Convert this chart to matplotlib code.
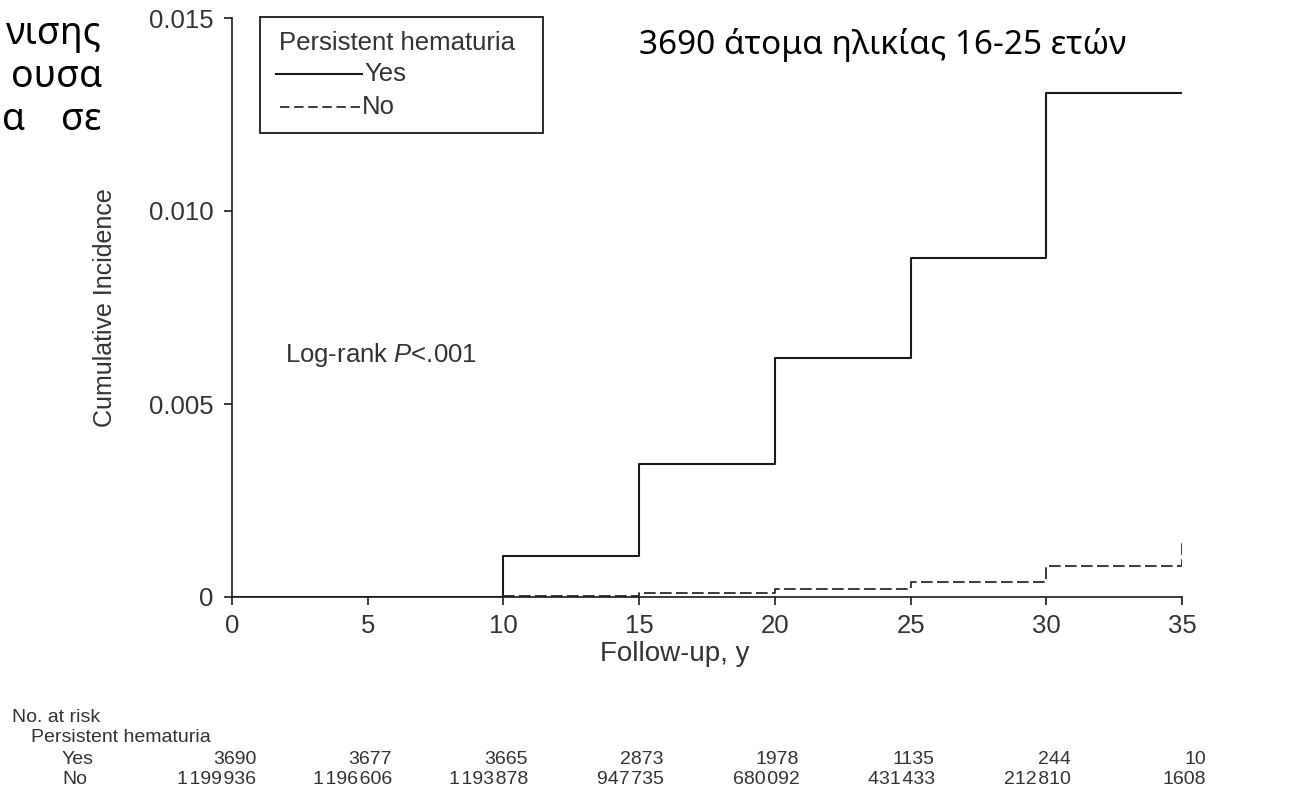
import matplotlib
matplotlib.use('Agg')
from matplotlib import pyplot as plt
from matplotlib.lines import Line2D
from matplotlib.patches import Rectangle
from matplotlib import transforms

# fonts: Helvetica-like for the chart, latin fallback list
plt.rcParams['font.family'] = ['Liberation Sans', 'DejaVu Sans']
plt.rcParams['mathtext.fontset'] = 'custom'
plt.rcParams['mathtext.it'] = 'Liberation Sans:italic'
plt.rcParams['mathtext.rm'] = 'Liberation Sans'

# cumulative incidence (step curves)
follow_up = [0, 10, 15, 20, 25, 30, 35]
inc_yes = [0, 0.00106, 0.00344, 0.0062, 0.00879, 0.01306, 0.01306]
inc_no = [0, 0.00003, 0.0001, 0.0002, 0.0004, 0.0008, 0.0015]

# number at risk table
risk_times = [0, 5, 10, 15, 20, 25, 30, 35]
risk_yes = [3690, 3677, 3665, 2873, 1978, 1135, 244, 10]
risk_no = [1199936, 1196606, 1193878, 947735, 680092, 431433, 212810, 1608]

x_ticks = [0, 5, 10, 15, 20, 25, 30, 35]
y_ticks = [0, 0.005, 0.010, 0.015]
y_tick_labels = ['0', '0.005', '0.010', '0.015']

W, H = 1293, 794
line_col = '#1a1a1a'
text_col = '#333333'


def fx(px):
    return px / W


def fy(py):
    return 1 - py / H


def fmt(n):
    # small space between thousands groups, only for big numbers
    if n < 10000:
        return str(n)
    return '{:,}'.format(n).replace(',', '\u200a')


fig = plt.figure(figsize=(W / 100, H / 100), dpi=100)
ax = fig.add_axes([fx(232), fy(597), (1182 - 232) / W, (597 - 18) / H])

ax.step(follow_up, inc_yes, where='post', color=line_col, lw=1.5)
ax.step(follow_up, inc_no, where='post', color=line_col, lw=1.2, dashes=(7, 2.6))

ax.set_xlim(0, 35)
ax.set_ylim(0, 0.015)
ax.set_xticks(x_ticks)
ax.set_yticks(y_ticks)
ax.set_yticklabels(y_tick_labels)
for s in ['top', 'right']:
    ax.spines[s].set_visible(False)
for s in ['left', 'bottom']:
    ax.spines[s].set_linewidth(1.2)
    ax.spines[s].set_color(line_col)
ax.tick_params(axis='both', direction='out', length=6, width=1.2, color=line_col,
               labelsize=18.5, labelcolor=text_col, pad=6)
ax.tick_params(axis='y', pad=7.5)

ax.set_xlabel('Follow-up, y', fontsize=20, color=text_col)
ax.xaxis.set_label_coords((675 - 232) / 950, (597 - 641) / 579)
ax.set_ylabel('Cumulative Incidence', fontsize=18, color=text_col, va='center')
ax.yaxis.set_label_coords((105 - 232) / 950, 0.5)

ax.text(1.95, 0.00627, 'Log-rank $P$<.001', fontsize=18.5, color=text_col, va='center')

# legend box drawn by hand, to keep its wide and flat shape
fig.add_artist(Rectangle((fx(260), fy(133)), (543 - 260) / W, (133 - 16.7) / H,
                         transform=fig.transFigure, fill=False,
                         edgecolor=line_col, lw=1.3))
fig.text(fx(279), fy(43), 'Persistent hematuria', fontsize=18.5, color=text_col, va='center')
fig.add_artist(Line2D([fx(276), fx(362)], [fy(74), fy(74)], transform=fig.transFigure,
                      color=line_col, lw=1.5))
fig.text(fx(364), fy(74), 'Yes', fontsize=18.5, color=text_col, va='center')
fig.add_artist(Line2D([fx(280), fx(359.5)], [fy(107), fy(107)], transform=fig.transFigure,
                      color=line_col, lw=1.2, dashes=(5.65, 2.82)))
fig.text(fx(362), fy(107), 'No', fontsize=18.5, color=text_col, va='center')

# number at risk rows under the axes
tr = transforms.blended_transform_factory(ax.transData, fig.transFigure)
fig.text(fx(12), fy(717), 'No. at risk', fontsize=14, color=text_col, va='center')
fig.text(fx(31), fy(738), 'Persistent hematuria', fontsize=14, color=text_col, va='center')
fig.text(fx(62), fy(760), 'Yes', fontsize=14, color=text_col, va='center')
fig.text(fx(62), fy(780), 'No', fontsize=14, color=text_col, va='center')
for t, a, b in zip(risk_times, risk_yes, risk_no):
    ax.text(t + 0.9, fy(760), fmt(a), transform=tr, ha='right', va='center',
            fontsize=14, color=text_col, clip_on=False)
    ax.text(t + 0.9, fy(780), fmt(b), transform=tr, ha='right', va='center',
            fontsize=14, color=text_col, clip_on=False)

# greek slide text
greek = ['Noto Sans', 'DejaVu Sans']
fig.text(fx(639), fy(54), '3690 άτομα ηλικίας 16-25 ετών', fontsize=24,
         family=greek, color='black', va='baseline')
fig.text(fx(102), fy(44), 'νισης', fontsize=27, family=greek, ha='right', va='baseline')
fig.text(fx(102), fy(87), 'ουσα', fontsize=27, family=greek, ha='right', va='baseline')
fig.text(fx(2), fy(130), 'α', fontsize=27, family=greek, ha='left', va='baseline')
fig.text(fx(102), fy(130), 'σε', fontsize=27, family=greek, ha='right', va='baseline')

fig.savefig('out.png', dpi=100)
